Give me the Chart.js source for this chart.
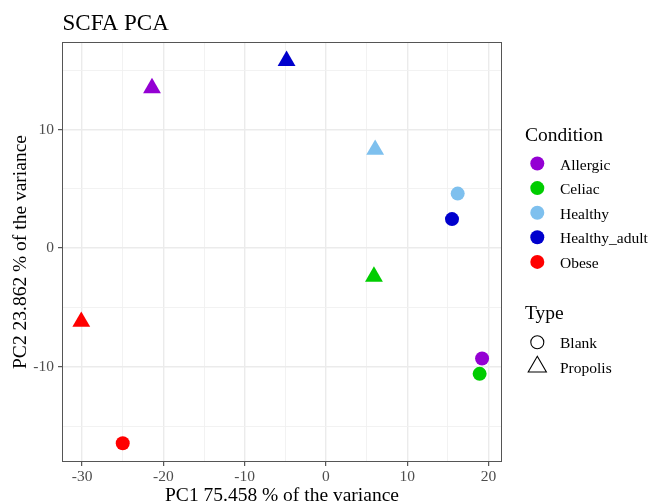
<!DOCTYPE html>
<html><head><meta charset="utf-8">
<script src="https://cdn.jsdelivr.net/npm/chart.js@4.4.1/dist/chart.umd.min.js"></script>
<style>html,body{margin:0;padding:0;background:#fff}canvas{display:block}</style>
</head><body>
<canvas id="c" width="650" height="504"></canvas>
<script>
// ---- data ----
const conditions = ['Allergic', 'Celiac', 'Healthy', 'Healthy_adult', 'Obese'];
const blankPC1 = [19.2, 18.9, 16.2, 15.5, -25.0];
const blankPC2 = [-9.3, -10.6, 4.6, 2.45, -16.45];
const propolisPC1 = [-21.4, 5.9, 6.05, -4.85, -30.1];
const propolisPC2 = [13.5, -2.4, 8.3, 15.8, -6.2];
const typeLabels = ['Blank', 'Propolis'];
const xMajorTicks = [-30, -20, -10, 0, 10, 20];
const xMinorTicks = [-25, -15, -5, 5, 15];
const yMajorTicks = [-10, 0, 10];
const yMinorTicks = [-15, -5, 5, 15];
const chartTitle = 'SCFA PCA';
const xTitle = 'PC1 75.458 % of the variance';
const yTitle = 'PC2 23.862 % of the variance';
const conditionTitle = 'Condition';
const typeTitle = 'Type';

// ---- styles ----
const palette = ['#9400D3', '#00CD00', '#7EC0EE', '#0000CD', '#FF0000'];
const FONT = "'Liberation Serif', 'Times New Roman', serif";

const blankData = conditions.map((c, i) => ({x: blankPC1[i], y: blankPC2[i]}));
const propolisData = conditions.map((c, i) => ({x: propolisPC1[i], y: propolisPC2[i]}));

function gridOpts(majors) {
  return {
    color: ctx => majors.includes(ctx.tick && ctx.tick.value) ? '#EBEBEB' : '#F0F0F0',
    lineWidth: ctx => majors.includes(ctx.tick && ctx.tick.value) ? 1.4 : 0.9,
    tickColor: ctx => majors.includes(ctx.tick && ctx.tick.value) ? '#333333' : 'rgba(0,0,0,0)',
    tickWidth: 1,
    tickLength: 4,
    drawTicks: true
  };
}

const overlay = {
  id: 'overlay',
  afterDatasetsDraw(chart) {
    const {ctx, chartArea: a} = chart;
    ctx.save();
    ctx.strokeStyle = '#555555';
    ctx.lineWidth = 1;
    ctx.strokeRect(a.left + 0.5, a.top + 0.5, a.right - a.left - 1, a.bottom - a.top - 1);
    ctx.restore();
  },
  afterDraw(chart) {
    const {ctx} = chart;
    ctx.save();
    ctx.fillStyle = '#000';
    ctx.textAlign = 'left';
    ctx.textBaseline = 'alphabetic';
    ctx.font = `23px ${FONT}`;
    ctx.fillText(chartTitle, 62.5, 29.5);

    // Condition legend
    ctx.font = `19.5px ${FONT}`;
    ctx.fillText(conditionTitle, 525, 140.5);
    ctx.font = `15.5px ${FONT}`;
    conditions.forEach((c, i) => {
      const y = 163.5 + i * 24.6;
      ctx.beginPath();
      ctx.arc(537.3, y, 7, 0, Math.PI * 2);
      ctx.fillStyle = palette[i];
      ctx.fill();
      ctx.fillStyle = '#000';
      ctx.fillText(c, 560, y + 6);
    });

    // Type legend
    ctx.font = `19.5px ${FONT}`;
    ctx.fillText(typeTitle, 525, 318.7);
    ctx.font = `15.5px ${FONT}`;
    ctx.strokeStyle = '#000';
    ctx.lineWidth = 1.1;
    ctx.beginPath();
    ctx.arc(537.3, 342.3, 6.5, 0, Math.PI * 2);
    ctx.stroke();
    ctx.fillText(typeLabels[0], 560, 348.3);
    const tx = 537.3, ty = 366.8, r = 10.5;
    ctx.beginPath();
    ctx.moveTo(tx, ty - r);
    ctx.lineTo(tx + r * Math.sqrt(3) / 2, ty + r / 2);
    ctx.lineTo(tx - r * Math.sqrt(3) / 2, ty + r / 2);
    ctx.closePath();
    ctx.stroke();
    ctx.fillText(typeLabels[1], 560, 372.5);
    ctx.restore();
  }
};

new Chart(document.getElementById('c'), {
  type: 'scatter',
  data: {
    datasets: [
      {
        label: typeLabels[0],
        data: blankData,
        pointStyle: 'circle',
        pointRadius: 7,
        pointHoverRadius: 7,
        pointBorderWidth: 0,
        pointBackgroundColor: palette,
        pointBorderColor: palette
      },
      {
        label: typeLabels[1],
        data: propolisData,
        pointStyle: 'triangle',
        pointRadius: 10.3,
        pointHoverRadius: 10.3,
        pointBorderWidth: 0,
        pointBackgroundColor: palette,
        pointBorderColor: palette
      }
    ]
  },
  options: {
    responsive: false,
    animation: false,
    devicePixelRatio: 1,
    layout: {padding: {left: 0, top: 42, right: 148, bottom: 0}},
    plugins: {legend: {display: false}, title: {display: false}, tooltip: {enabled: false}},
    scales: {
      x: {
        type: 'linear',
        min: -32.47,
        max: 21.65,
        afterBuildTicks: s => { s.ticks = [...xMajorTicks, ...xMinorTicks].sort((a, b) => a - b).map(v => ({value: v})); },
        afterFit: s => { s.height = 42; },
        border: {display: false},
        grid: gridOpts(xMajorTicks),
        ticks: {
          autoSkip: false, maxRotation: 0, padding: 2,
          color: '#4D4D4D',
          font: {family: FONT, size: 15.5},
          callback: v => xMajorTicks.includes(v) ? String(v) : ''
        },
        title: {
          display: true, text: xTitle, color: '#000',
          font: {family: FONT, size: 19.5, lineHeight: 0.8},
          padding: {top: 0, bottom: 0}
        }
      },
      y: {
        type: 'linear',
        min: -18.03,
        max: 17.38,
        afterBuildTicks: s => { s.ticks = [...yMajorTicks, ...yMinorTicks].sort((a, b) => a - b).map(v => ({value: v})); },
        afterFit: s => { s.width = 62; },
        border: {display: false},
        grid: gridOpts(yMajorTicks),
        ticks: {
          autoSkip: false, padding: 4,
          color: '#4D4D4D',
          font: {family: FONT, size: 15.5},
          callback: v => yMajorTicks.includes(v) ? String(v) : ''
        },
        title: {
          display: true, text: yTitle, color: '#000',
          font: {family: FONT, size: 19.5, lineHeight: 1},
          padding: {top: 11, bottom: 0}
        }
      }
    }
  },
  plugins: [overlay]
});
</script>
</body></html>
